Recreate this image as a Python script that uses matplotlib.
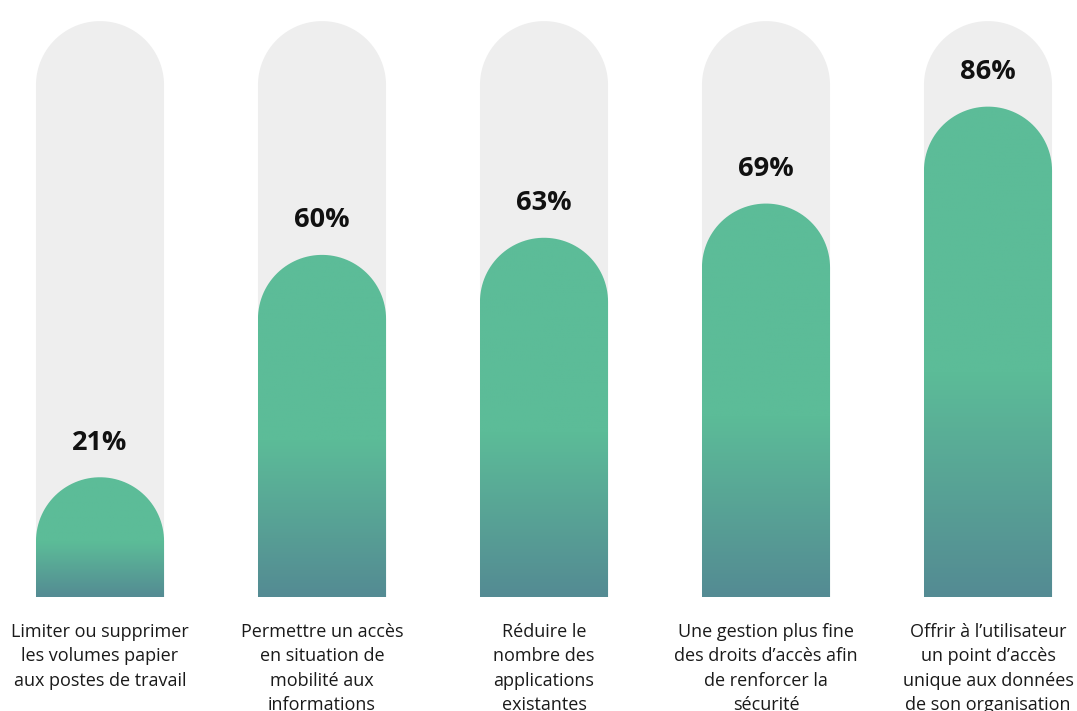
import numpy as np
import matplotlib.pyplot as plt
from matplotlib.path import Path
from matplotlib.patches import PathPatch
from matplotlib.colors import LinearSegmentedColormap

categories = [
    "Limiter ou supprimer\nles volumes papier\naux postes de travail",
    "Permettre un accès\nen situation de\nmobilité aux\ninformations",
    "Réduire le\nnombre des\napplications\nexistantes",
    "Une gestion plus fine\ndes droits d’accès afin\nde renforcer la\nsécurité",
    "Offrir à l’utilisateur\nun point d’accès\nunique aux données\nde son organisation",
]
values = [21, 60, 63, 69, 86]
value_labels = ["21%", "60%", "63%", "69%", "86%"]

track_height = 101
bar_width = 0.577
green_top = "#5cbc98"
green_bottom = "#548b93"
track_color = "#eeeeee"

fig = plt.figure(figsize=(10.77, 7.11), dpi=100)
ax = fig.add_axes([0, 114 / 711, 1, 597 / 711])
ax.set_xlim(-0.4505, 4.4009)
ax.set_ylim(0, 104.7)
ax.axis("off")

# radius of the rounded caps, kept circular on screen
fig.canvas.draw()
sx = ax.transData.transform((1, 0))[0] - ax.transData.transform((0, 0))[0]
sy = ax.transData.transform((0, 1))[1] - ax.transData.transform((0, 0))[1]
rx = bar_width / 2
ry = rx * sx / sy


def capsule(xc, h):
    t = np.linspace(np.pi, 0, 60)
    arc_x = xc + rx * np.cos(t)
    arc_y = (h - ry) + ry * np.sin(t)
    xs = np.concatenate([[xc - rx], arc_x, [xc + rx, xc - rx]])
    ys = np.concatenate([[0], arc_y, [0, 0]])
    codes = [Path.MOVETO] + [Path.LINETO] * (len(xs) - 2) + [Path.CLOSEPOLY]
    return Path(np.column_stack([xs, ys]), codes)


cmap = LinearSegmentedColormap.from_list("fade", [green_bottom, green_top])

for i, (v, lab, cat) in enumerate(zip(values, value_labels, categories)):
    ax.add_patch(PathPatch(capsule(i, track_height), facecolor=track_color,
                           edgecolor="none", zorder=1))

    bar = PathPatch(capsule(i, v), facecolor="none", edgecolor="none", zorder=2)
    ax.add_patch(bar)
    # gradient over the lower part of each bar, flat green above
    grad = np.clip(np.linspace(0, 1, 256) / 0.46, 0, 1).reshape(-1, 1)
    img = ax.imshow(grad, cmap=cmap, origin="lower", aspect="auto",
                    extent=(i - rx, i + rx, 0, v), zorder=2, interpolation="bilinear")
    img.set_clip_path(bar)

    ax.annotate(lab, (i, v), xytext=(0, 25), textcoords="offset points",
                ha="center", va="center", fontsize=19.5, fontweight="bold",
                family="Open Sans", color="#111111")
    ax.annotate(cat, (i, 0), xytext=(0, -18.5), textcoords="offset points",
                ha="center", va="top", fontsize=13, family="Open Sans",
                color="#1a1a1a", linespacing=1.47, annotation_clip=False)

ax.set_xlim(-0.4505, 4.4009)
ax.set_ylim(0, 104.7)
fig.savefig("out.png", dpi=100)
